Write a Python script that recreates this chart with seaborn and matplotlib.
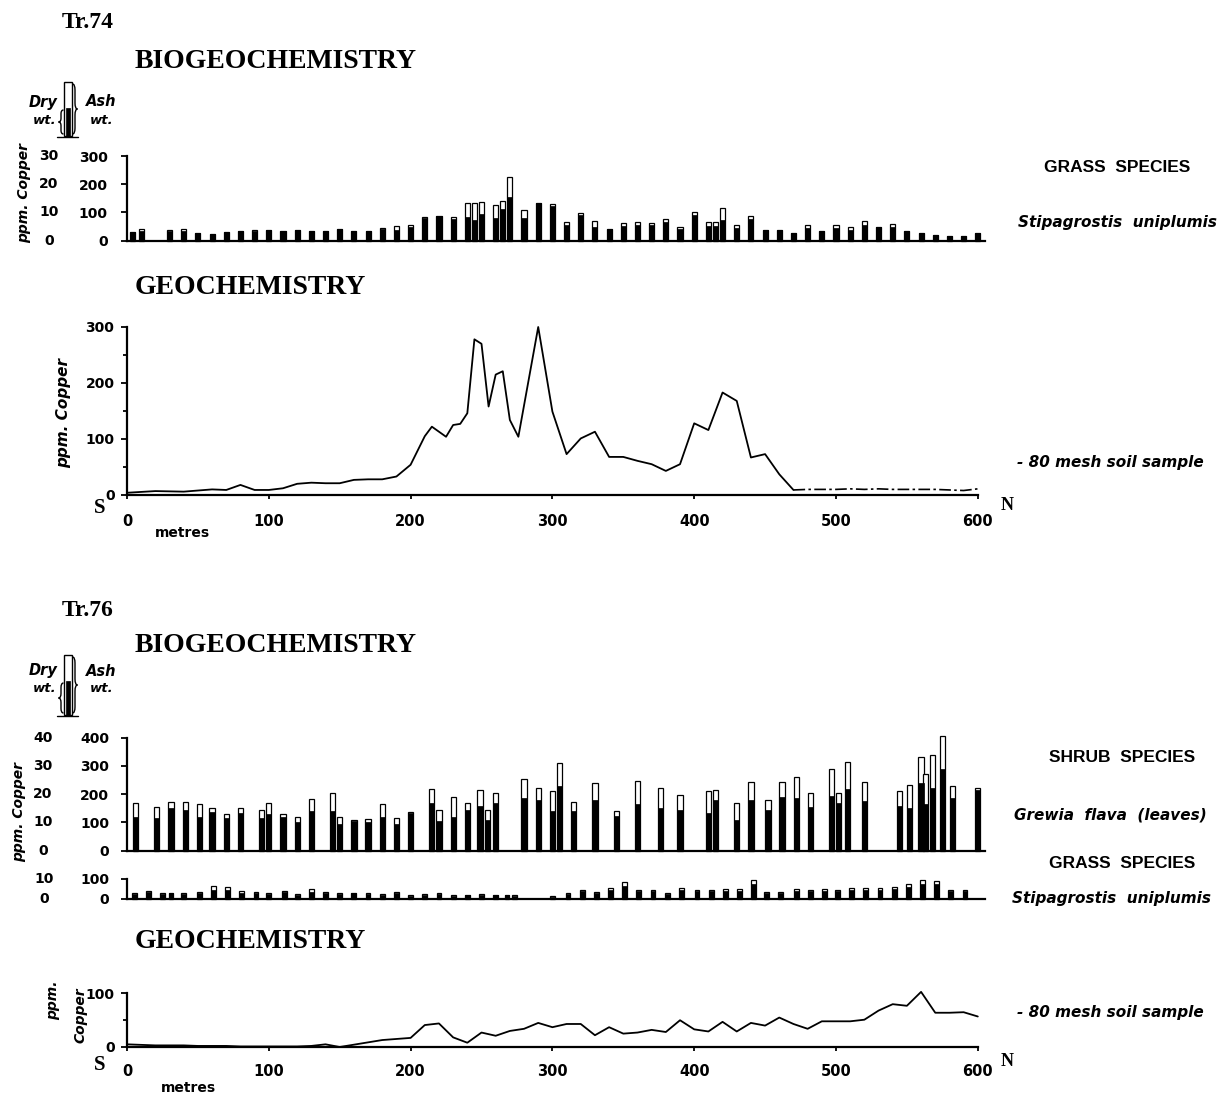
import numpy as np
import matplotlib
matplotlib.use("Agg")
import matplotlib.pyplot as plt
from matplotlib.path import Path
from matplotlib.patches import PathPatch, Rectangle
import seaborn as sns

# ---------------- data ----------------
# Tr.74 grass (Stipagrostis uniplumis): ash wt. ppm and dry wt. ppm
pos74 = [4, 10, 30, 40, 50, 60, 70, 80, 90, 100, 110, 120, 130, 140, 150, 160, 170, 180,
         190, 200, 210, 220, 230, 240, 245, 250, 260, 265, 270, 280, 290, 300, 310, 320,
         330, 340, 350, 360, 370, 380, 390, 400, 410, 415, 420, 430, 440, 450, 460, 470,
         480, 490, 500, 510, 520, 530, 540, 550, 560, 570, 580, 590, 600]
ash74 = [32, 40, 38, 42, 28, 25, 32, 33, 38, 37, 34, 37, 33, 33, 40, 35, 35, 44, 52, 55,
         85, 88, 83, 133, 135, 137, 126, 140, 226, 108, 132, 130, 67, 97, 71, 40, 61, 65,
         64, 78, 47, 102, 67, 67, 117, 55, 87, 38, 38, 28, 54, 35, 55, 47, 70, 49, 58, 34,
         26, 20, 16, 18, 26]
dry74 = [3.0, 3.4, 3.6, 3.6, 2.8, 2.5, 3.2, 3.3, 3.4, 3.7, 3.4, 3.7, 3.3, 3.3, 4.0, 3.5,
         3.5, 4.2, 3.8, 4.8, 8.0, 8.8, 7.8, 8.3, 7.3, 9.4, 7.9, 11.1, 15.5, 7.9, 13.2, 12.2,
         5.5, 9.0, 5.0, 4.0, 5.3, 5.5, 5.5, 6.8, 4.0, 9.2, 5.2, 5.2, 7.3, 4.5, 7.8, 3.8,
         3.8, 2.8, 4.5, 3.5, 4.5, 3.9, 5.5, 4.9, 4.8, 3.4, 2.6, 2.0, 1.6, 1.8, 2.6]

# Tr.74 soil (-80 mesh), ppm Cu
geo74_x = [0, 20, 40, 60, 70, 80, 90, 100, 110, 120, 130, 140, 150, 160, 170, 180, 190,
           200, 210, 215, 225, 230, 235, 240, 245, 250, 255, 260, 265, 270, 276, 290, 300,
           310, 320, 330, 340, 350, 360, 370, 380, 390, 400, 410, 420, 430, 440, 450, 460,
           470]
geo74_v = [4, 7, 6, 10, 9, 18, 9, 9, 12, 20, 22, 21, 21, 27, 28, 28, 33, 54, 105, 122,
           104, 125, 127, 146, 278, 270, 158, 215, 221, 134, 104, 300, 149, 73, 101, 113,
           68, 68, 61, 55, 43, 55, 128, 116, 183, 168, 67, 73, 37, 9]
tail74_x = [470, 480, 490, 500, 510, 520, 530, 540, 550, 560, 570, 580, 590, 600]
tail74_v = [9, 10, 10, 10, 11, 10, 11, 10, 10, 10, 10, 9, 8, 11]

# Tr.76 shrub (Grewia flava leaves)
pos76s = [6, 21, 31, 41, 51, 60, 70, 80, 95, 100, 110, 120, 130, 145, 150, 160, 170, 180,
          190, 200, 215, 220, 230, 240, 249, 254, 260, 280, 290, 300, 305, 315, 330, 345,
          360, 376, 390, 410, 415, 430, 440, 452, 462, 472, 482, 497, 502, 508, 520, 545,
          552, 560, 563, 568, 575, 582, 600]
ash76s = [168, 153, 171, 171, 165, 152, 130, 150, 144, 170, 130, 118, 184, 203, 118, 108,
          112, 164, 117, 138, 220, 144, 189, 168, 215, 144, 203, 254, 221, 211, 309, 173,
          241, 140, 247, 221, 197, 212, 215, 168, 244, 179, 244, 260, 205, 289, 205, 314,
          244, 211, 232, 332, 271, 339, 406, 229, 223]
dry76s = [12, 11.5, 15, 14.5, 12, 13.8, 11.5, 13.5, 11.5, 13, 12, 10, 14, 14, 9.3, 10.5,
          10, 12, 9.5, 13.5, 17, 10.5, 12, 14.5, 16, 10.8, 17, 18.5, 18, 14, 23, 14, 18,
          12.4, 16.4, 15, 14.4, 13.5, 18, 11, 18, 14.4, 19, 18.5, 15.6, 19.5, 17, 22, 17.7,
          15.8, 15, 24, 16.4, 22.3, 29, 18.5, 21.5]

# Tr.76 grass (Stipagrostis uniplumis)
pos76g = [5, 15, 25, 31, 40, 51, 61, 71, 81, 91, 100, 111, 120, 130, 140, 150, 160, 170,
          180, 190, 200, 210, 220, 230, 240, 250, 260, 268, 273, 300, 311, 321, 331, 341,
          351, 361, 371, 381, 391, 402, 412, 422, 432, 442, 451, 461, 472, 482, 492, 501,
          511, 521, 531, 541, 551, 561, 571, 581, 591]
ash76g = [30, 40, 30, 30, 28, 35, 65, 60, 40, 35, 30, 40, 25, 50, 35, 28, 32, 30, 25, 35,
          18, 25, 28, 18, 20, 25, 20, 20, 18, 15, 30, 45, 35, 55, 85, 45, 45, 30, 55, 45,
          45, 50, 50, 95, 35, 35, 50, 45, 50, 45, 55, 55, 55, 60, 75, 95, 90, 45, 45]
dry76g = [2.5, 3.5, 2.5, 2.8, 2.5, 3.0, 4.5, 4.5, 3.0, 3.0, 2.5, 3.5, 2.0, 3.5, 3.0, 2.5,
          3.0, 2.5, 2.0, 3.0, 1.6, 2.0, 2.5, 1.6, 1.8, 2.0, 1.8, 1.8, 1.6, 1.2, 2.6, 4.0,
          3.0, 4.5, 6.5, 4.0, 4.0, 2.6, 4.5, 4.0, 4.0, 4.0, 4.0, 7.5, 3.0, 3.0, 4.0, 4.0,
          4.0, 3.8, 4.5, 4.5, 4.5, 5.0, 6.0, 7.5, 7.5, 4.0, 4.0]

# Tr.76 soil (-80 mesh)
geo76_x = [0, 10, 20, 30, 40, 50, 60, 70, 80, 90, 100, 110, 120, 130, 140, 150, 180, 200,
           210, 220, 230, 240, 250, 260, 270, 280, 290, 300, 310, 320, 330, 340, 350, 360,
           370, 380, 390, 400, 410, 420, 430, 440, 450, 460, 470, 480, 490, 500, 510, 520,
           530, 540, 550, 560, 570, 580, 590, 600]
geo76_v = [5, 4, 3, 3, 3, 2, 2, 2, 1, 1, 1, 1, 1, 2, 5, 0, 13, 17, 41, 44, 18, 8, 27, 21,
           30, 34, 45, 37, 43, 43, 22, 37, 25, 27, 32, 28, 50, 33, 29, 47, 29, 45, 40, 55,
           43, 34, 48, 48, 48, 51, 68, 80, 77, 103, 64, 64, 65, 57]

xticks = [0, 100, 200, 300, 400, 500, 600]

# ---------------- layout ----------------
sns.set_theme(style="ticks")
plt.rcParams['font.family'] = ['DejaVu Sans']
plt.rcParams['axes.linewidth'] = 1.6
for key in ('text.color', 'axes.labelcolor', 'xtick.color', 'ytick.color',
            'axes.edgecolor'):
    plt.rcParams[key] = 'black'

W, H = 1232, 1097
X0, PXM, XMAX = 127, 1.418, 605
fig = plt.figure(figsize=(W / 100, H / 100), dpi=100)
fig.patch.set_facecolor('white')


def panel(y_zero, y_top, ymax):
    ax = fig.add_axes([X0 / W, (H - y_zero) / H, XMAX * PXM / W, (y_zero - y_top) / H])
    ax.set_xlim(0, XMAX)
    ax.set_ylim(0, ymax)
    ax.patch.set_alpha(0)
    for s in ('top', 'right'):
        ax.spines[s].set_visible(False)
    return ax


def xfrac(px):
    return (px - X0) / (XMAX * PXM)


def style_y(ax, ticks, minor=None, pad=7):
    ax.spines['left'].set_bounds(0, ticks[-1])
    ax.set_yticks(ticks)
    ax.set_yticklabels([str(t) for t in ticks], fontsize=10, fontweight='bold')
    if minor is not None:
        ax.set_yticks(minor, minor=True)
    ax.tick_params(axis='y', which='major', direction='out', length=4, width=1.3, pad=pad)
    ax.tick_params(axis='y', which='minor', direction='out', length=3, width=1.3)
    ax.set_ylabel('')


def bars(ax, pos, ash, dry, width_m):
    step = np.diff(np.unique(pos)).min()
    w = width_m / step
    sns.barplot(x=pos, y=ash, native_scale=True, orient='x', width=w, color='white',
                edgecolor='black', linewidth=0.9, saturation=1, errorbar=None, ax=ax)
    sns.barplot(x=pos, y=[d * 10 for d in dry], native_scale=True, orient='x', width=w,
                color='black', edgecolor='black', linewidth=0.5, saturation=1,
                errorbar=None, ax=ax)
    for p in ax.patches:
        p.set_clip_on(False)
    ax.set_xlim(0, XMAX)
    ax.set_xticks([])
    ax.set_xlabel('')
    ax.spines['bottom'].set_bounds(0, XMAX)


def dry_labels(ax, px, vals):
    for v in vals:
        ax.text(xfrac(px), v * 10, str(v), transform=ax.get_yaxis_transform(),
                ha='center', va='center', fontsize=10, fontweight='bold')


def geo_x(ax, pad):
    ax.set_xticks(xticks)
    ax.set_xticklabels([str(t) for t in xticks], fontsize=10.5, fontweight='bold')
    ax.tick_params(axis='x', direction='out', length=3, width=1.3, pad=pad)
    ax.spines['bottom'].set_bounds(0, 600)
    ax.set_xlabel('')


# Tr.74 biogeochemistry
ax1 = panel(240.7, 156, 300)
bars(ax1, pos74, ash74, dry74, 3.6)
style_y(ax1, [0, 100, 200, 300], pad=10)
dry_labels(ax1, 49, [0, 10, 20, 30])

# Tr.74 geochemistry
ax2 = panel(495, 327, 300)
sns.lineplot(x=geo74_x, y=geo74_v, color='black', linewidth=1.3, errorbar=None, ax=ax2)
sns.lineplot(x=tail74_x, y=tail74_v, color='black', linewidth=1.2, errorbar=None, ax=ax2,
             linestyle=(0, (7, 2, 1.5, 2)))
for ln in ax2.lines:
    ln.set_clip_on(False)
style_y(ax2, [0, 100, 200, 300], minor=[50, 150, 250], pad=5)
geo_x(ax2, 11)

# Tr.76 shrub
ax3 = panel(850.7, 734.9, 410)
bars(ax3, pos76s, ash76s, dry76s, 3.7)
style_y(ax3, [0, 100, 200, 300, 400], pad=9)
dry_labels(ax3, 43, [0, 10, 20, 30, 40])

# Tr.76 grass
ax4 = panel(899, 879, 100)
bars(ax4, pos76g, ash76g, dry76g, 3.4)
style_y(ax4, [0, 100], pad=9)
dry_labels(ax4, 44, [0, 10])

# Tr.76 geochemistry
ax5 = panel(1047, 990.8, 105)
sns.lineplot(x=geo76_x, y=geo76_v, color='black', linewidth=1.3, errorbar=None, ax=ax5)
for ln in ax5.lines:
    ln.set_clip_on(False)
style_y(ax5, [0, 100], minor=[50], pad=5)
geo_x(ax5, 9)

# ---------------- annotations (pixel coordinates) ----------------
ov = fig.add_axes([0, 0, 1, 1])
ov.set_xlim(0, W)
ov.set_ylim(H, 0)
ov.axis('off')

serif = ['Liberation Serif', 'DejaVu Serif']
ital = dict(fontweight='bold', style='italic')


def brace(x, y0, y1, w, lw=1.0):
    ym = (y0 + y1) / 2
    r = min(abs(y1 - y0) * 0.15, 6)
    verts = [(x + w / 2, y0), (x, y0), (x, y0 + r), (x, ym - r), (x, ym), (x - w / 2, ym),
             (x, ym), (x, ym + r), (x, y1 - r), (x, y1), (x + w / 2, y1)]
    codes = [Path.MOVETO, Path.CURVE3, Path.CURVE3, Path.LINETO, Path.CURVE3, Path.CURVE3,
             Path.CURVE3, Path.CURVE3, Path.LINETO, Path.CURVE3, Path.CURVE3]
    ov.add_patch(PathPatch(Path(verts, codes), fill=False, lw=lw, color='black'))


def key_icon(top, black_top, bottom, ytxt):
    ov.add_patch(Rectangle((64, top), 8, bottom - top, facecolor='white',
                           edgecolor='black', lw=1.0))
    ov.add_patch(Rectangle((66, black_top), 4, bottom - black_top, facecolor='black',
                           edgecolor='black', lw=0.5))
    ov.plot([57, 78], [bottom + 1, bottom + 1], color='black', lw=1.0)
    brace(61, black_top + 2, bottom - 2, 5)
    brace(75, top + 2, bottom - 2, -5)
    ov.text(43, ytxt, 'Dry', fontsize=10.5, ha='center', va='center', **ital)
    ov.text(45, ytxt + 18, 'wt.', fontsize=9.5, ha='center', va='center', **ital)
    ov.text(101, ytxt, 'Ash', fontsize=10.5, ha='center', va='center', **ital)
    ov.text(102, ytxt + 18, 'wt.', fontsize=9.5, ha='center', va='center', **ital)


# Tr.74 block
ov.text(62, 22, 'Tr.74', fontsize=17, fontweight='bold', family=serif, ha='left', va='center')
ov.text(135, 61, 'BIOGEOCHEMISTRY', fontsize=20, fontweight='bold', family=serif,
        ha='left', va='center')
key_icon(82, 108, 136, 102)
ov.text(24, 193, 'ppm. Copper', rotation=90, fontsize=10, ha='center', va='center', **ital)
ov.text(1117, 168, 'GRASS  SPECIES', fontsize=12.5, fontweight='bold', ha='center',
        va='center', family=['Liberation Sans', 'DejaVu Sans'])
ov.text(1117, 222, 'Stipagrostis  uniplumis', fontsize=11, ha='center', va='center', **ital)
ov.text(135, 288, 'GEOCHEMISTRY', fontsize=20, fontweight='bold', family=serif,
        ha='left', va='center')
ov.text(64, 413, 'ppm. Copper', rotation=90, fontsize=11, ha='center', va='center', **ital)
ov.text(1110, 463, '- 80 mesh soil sample', fontsize=11, ha='center', va='center', **ital)
ov.text(100, 508, 'S', fontsize=15, fontweight='bold', family=serif, ha='center', va='center')
ov.text(1007, 506, 'N', fontsize=13, fontweight='bold', family=serif, ha='center', va='center')
ov.text(182, 533, 'metres', fontsize=10, fontweight='bold', ha='center', va='center')

# Tr.76 block
ov.text(62, 610, 'Tr.76', fontsize=17, fontweight='bold', family=serif, ha='left', va='center')
ov.text(135, 646, 'BIOGEOCHEMISTRY', fontsize=20, fontweight='bold', family=serif,
        ha='left', va='center')
key_icon(655, 681, 715, 671)
ov.text(19, 812, 'ppm. Copper', rotation=90, fontsize=10, ha='center', va='center', **ital)
ov.text(1122, 757, 'SHRUB  SPECIES', fontsize=12.5, fontweight='bold', ha='center',
        va='center', family=['Liberation Sans', 'DejaVu Sans'])
ov.text(1110, 815, 'Grewia  flava  (leaves)', fontsize=11, ha='center', va='center', **ital)
ov.text(1122, 863, 'GRASS  SPECIES', fontsize=12.5, fontweight='bold', ha='center',
        va='center', family=['Liberation Sans', 'DejaVu Sans'])
ov.text(1112, 898, 'Stipagrostis  uniplumis', fontsize=11, ha='center', va='center', **ital)
ov.text(135, 942, 'GEOCHEMISTRY', fontsize=20, fontweight='bold', family=serif,
        ha='left', va='center')
ov.text(53, 1000, 'ppm.', rotation=90, fontsize=10, ha='center', va='center', **ital)
ov.text(81, 1015, 'Copper', rotation=90, fontsize=10, ha='center', va='center', **ital)
ov.text(1110, 1012, '- 80 mesh soil sample', fontsize=11, ha='center', va='center', **ital)
ov.text(100, 1065, 'S', fontsize=15, fontweight='bold', family=serif, ha='center', va='center')
ov.text(1007, 1062, 'N', fontsize=13, fontweight='bold', family=serif, ha='center', va='center')
ov.text(188, 1088, 'metres', fontsize=10, fontweight='bold', ha='center', va='center')

fig.savefig('out.png', dpi=100, facecolor='white')
